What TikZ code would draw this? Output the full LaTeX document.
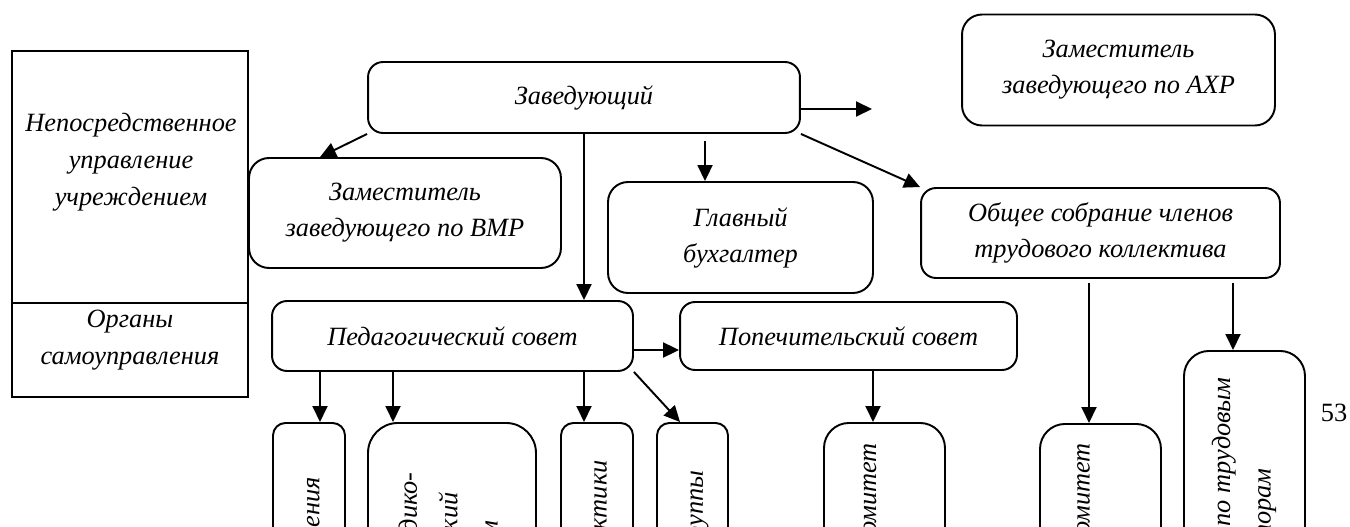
\documentclass[tikz,border=0pt]{standalone}
\usepackage{fontspec}
\setmainfont{Liberation Serif}
\usepackage{tikz}
\usetikzlibrary{arrows.meta, calc}

\tikzset{
  orgbox/.style={draw, line width=1.1pt, rounded corners=0.3cm, align=center, inner sep=0pt,
    font=\fontsize{15}{20.5}\selectfont\itshape},
  downbox/.style={draw, line width=1.1pt, rounded corners=0.25cm, anchor=north, minimum height=6cm},
  sidetext/.style={rotate=90, anchor=east, inner sep=0pt, align=center,
    font=\fontsize{15}{23}\selectfont\itshape},
  paneltext/.style={align=center, inner sep=0pt, font=\fontsize{15}{21}\selectfont\itshape},
  arr/.style={line width=1.1pt, -{Triangle[length=0.32cm, width=0.3cm]}},
}

\begin{document}
\begin{tikzpicture}[x=0.02cm, y=-0.02cm]
        \useasboundingbox (0,0) rectangle (1350,527);
        \clip (0,0) rectangle (1350,527);

        % Left panel
        \draw[line width=1.6pt] (12,51) rectangle (248,397);
        \draw[line width=1.1pt] (12,303) -- (248,303);
        \node[paneltext] (upr) at (131,162) {Непосредственное\\управление\\учреждением};
        \node[paneltext] (org) at (130,340) {Органы\\самоуправления};

        % Head boxes
        \node[orgbox, minimum width=8.64cm, minimum height=1.42cm] (zav) at (584,97.5) {Заведующий};
        \node[orgbox, rounded corners=0.4cm, minimum width=6.26cm, minimum height=2.22cm] (axr) at (1118.5,70) {Заместитель\\заведующего по АХР};
        \node[orgbox, rounded corners=0.4cm, minimum width=6.24cm, minimum height=2.2cm] (vmr) at (405,213) {Заместитель\\заведующего по ВМР};
        \node[orgbox, rounded corners=0.4cm, minimum width=5.3cm, minimum height=2.22cm] (bux) at (740.5,237.5) {Главный\\бухгалтер};
        \node[orgbox, minimum width=7.18cm, minimum height=1.8cm] (obs) at (1100.5,233) {Общее собрание членов\\трудового коллектива};

        % Councils
        \node[orgbox, minimum width=7.22cm, minimum height=1.4cm] (ped) at (452.5,336) {Педагогический совет};
        \node[orgbox, minimum width=6.74cm, minimum height=1.36cm] (pop) at (848.5,336) {Попечительский совет};

        % Bottom boxes
        \node[downbox, minimum width=1.44cm] (b1) at (309,422) {};
        \node[downbox, rounded corners=0.6cm, minimum width=3.36cm] (b2) at (452,422) {};
        \node[downbox, minimum width=1.44cm] (b3) at (597,422) {};
        \node[downbox, minimum width=1.42cm] (b4) at (692.5,422) {};
        \node[downbox, rounded corners=0.5cm, minimum width=2.42cm] (b5) at (884.5,422) {};
        \node[downbox, rounded corners=0.5cm, minimum width=2.42cm] (b6) at (1100.5,423) {};
        \node[downbox, rounded corners=0.5cm, minimum width=2.42cm] (b7) at (1244.5,350) {};

        \node[sidetext] (b1t) at (310,477) {Методические объединения};
        \node[sidetext] (b2t) at (451,472) {Психолого-медико-\\педагогический\\консилиум};
        \node[sidetext] (b3t) at (600,460) {Служба практики};
        \node[sidetext] (b4t) at (697,470) {Творческие группы};
        \node[sidetext] (b5t) at (867,443) {Родительский комитет};
        \node[sidetext] (b6t) at (1083,443) {Профсоюзный комитет};
        \node[sidetext] (b7t) at (1244,377) {Комиссия по трудовым\\спорам};

        % Page number
        \node[font=\fontsize{15}{18}\selectfont] (page) at (1334,413) {53};

        % Arrows
        \coordinate (axrarr) at (872,109);
        \draw[arr] ([yshift=-0.23cm]zav.east) -- (axrarr);
        \draw[arr] (zav.south west) -- ([xshift=-1.7cm]vmr.north);
        \draw[arr] (zav.south) -- (zav.south |- ped.north);
        \draw[arr] ([xshift=-0.71cm, yshift=0.8cm]bux.north) -- ([xshift=-0.71cm]bux.north);
        \draw[arr] (zav.south east) -- (obs.north west);
        \draw[arr] ([yshift=-0.28cm]ped.east) -- ([yshift=-0.28cm]ped.east -| pop.west);
        \draw[arr] ([xshift=0.22cm]b1.north |- ped.south) -- ([xshift=0.22cm]b1.north);
        \draw[arr] ([xshift=-1.18cm]b2.north |- ped.south) -- ([xshift=-1.18cm]b2.north);
        \draw[arr] ([xshift=-0.26cm]b3.north |- ped.south) -- ([xshift=-0.26cm]b3.north);
        \draw[arr] (ped.south east) -- ([xshift=-0.25cm]b4.north);
        \draw[arr] ([xshift=-0.23cm]b5.north |- pop.south) -- ([xshift=-0.23cm]b5.north);
        \draw[arr] ([xshift=-0.23cm, yshift=-0.08cm]b6.north |- obs.south) -- ([xshift=-0.23cm]b6.north);
        \draw[arr] ([xshift=-0.23cm, yshift=-0.08cm]b7.north |- obs.south) -- ([xshift=-0.23cm]b7.north);
    \end{tikzpicture}
\end{document}
